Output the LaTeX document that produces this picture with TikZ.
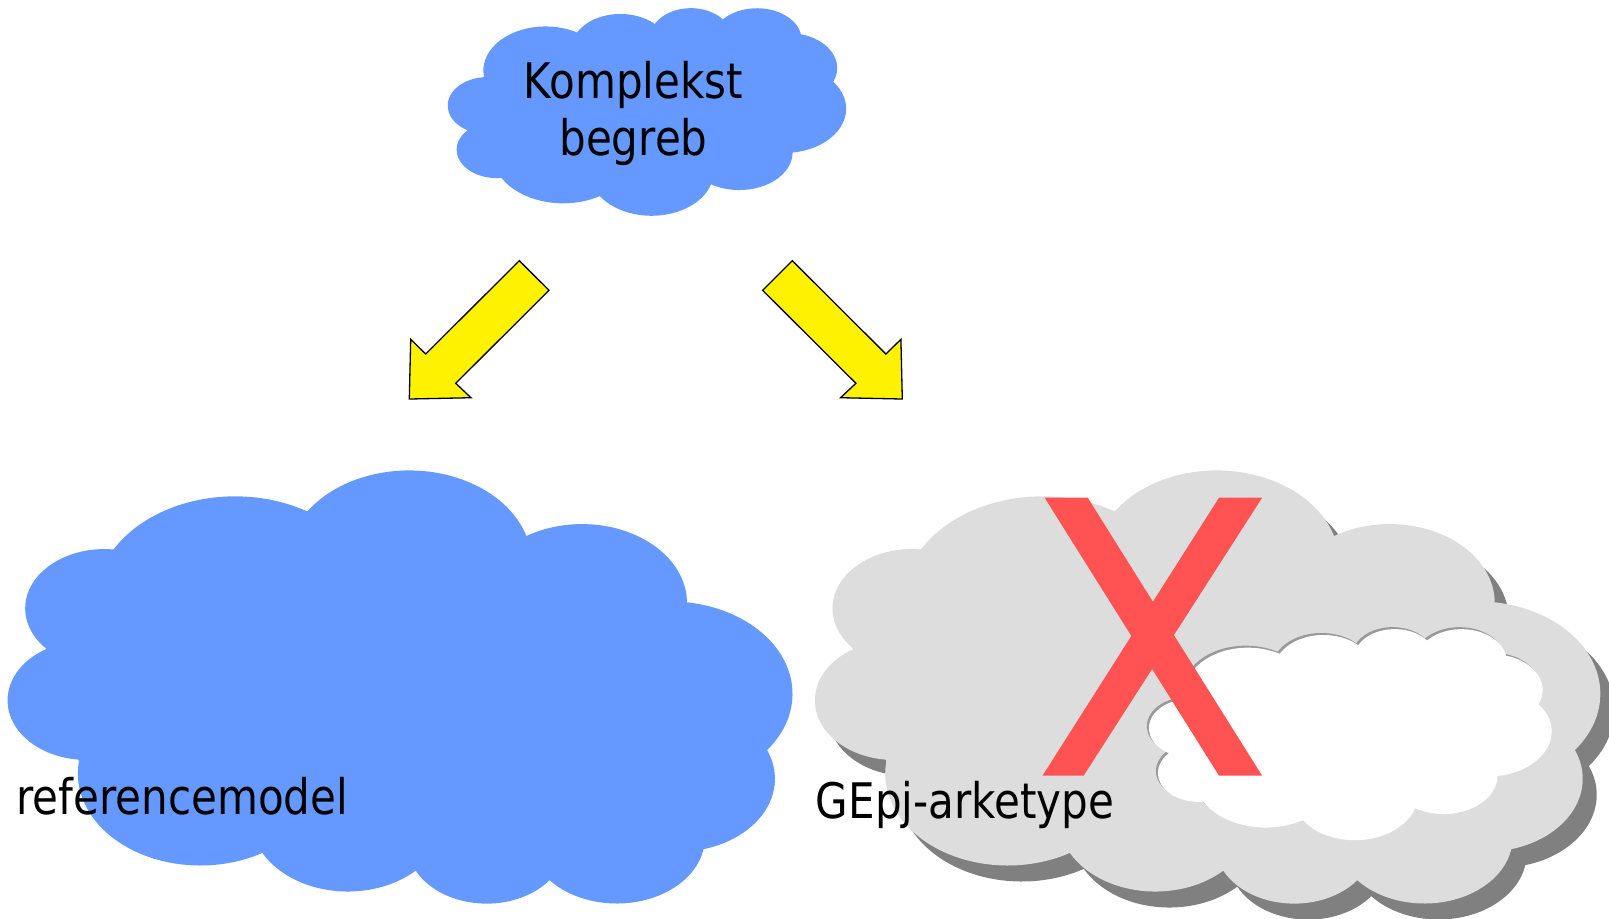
\documentclass[tikz,border=0pt]{standalone}
\usepackage{fontspec}
\setmainfont{DejaVu Sans}[FakeStretch=0.858]
\definecolor{cloudblue}{RGB}{102,153,255}
\definecolor{cloudgray}{RGB}{221,221,221}
\definecolor{shadowgray}{RGB}{128,128,128}
\definecolor{rimgray}{RGB}{153,153,153}
\definecolor{xred}{RGB}{255,82,82}
\newcommand\ooxcloud{(39.00,143.70)
  arc[start angle=-187.745, end angle=-59.63, x radius=67.53, y radius=91.90]
  arc[start angle=-152.02, end angle=-45.46, x radius=53.33, y radius=72.67]
  arc[start angle=-153.50, end angle=-37.34, x radius=43.65, y radius=59.45]
  arc[start angle=-139.70, end angle=-10.21, x radius=48.57, y radius=65.95]
  arc[start angle=-74.77, end angle=23.21, x radius=53.33, y radius=72.73]
  arc[start angle=-37.52, end angle=81.86, x radius=67.75, y radius=92.20]
  arc[start angle=0.46, end angle=121.97, x radius=57.85, y radius=78.67]
  arc[start angle=16.84, end angle=146.22, x radius=67.52, y radius=92.15]
  arc[start angle=58.98, end angle=150.19, x radius=77.20, y radius=105.43]
  arc[start angle=-276.69, end angle=-136.89, x radius=43.60, y radius=59.18]
  arc[start angle=-239.65, end angle=-95.89, x radius=43.45, y radius=59.45]
  -- cycle}
\tikzset{
  txt/.style={inner sep=0pt, font=\fontsize{24.5}{28.35}\selectfont, text=black},
  yarrow/.style={fill=yellow, draw=black, line width=0.65pt, line join=miter},
}
\begin{document}
\begin{tikzpicture}[x=0.5pt, y=-0.5pt]
\useasboundingbox (0,0) rectangle (1609,918);
\fill[white] (0,0) rectangle (1609,918);

% top cloud
\begin{scope}[shift={(448,7.5)}, xscale=398/432, yscale=207.5/432]
  \fill[cloudblue] \ooxcloud;
\end{scope}
\node[txt, align=center, anchor=base] (begriff) at (633.5,155) {Komplekst\\begreb};

% arrows
\path[yarrow] (519.3,260.7) -- (549,290.3) -- (455.7,383.3) -- (471,397.7)
  -- (409.3,399) -- (410.7,339.3) -- (425.7,354) -- cycle;
\path[yarrow] (792.3,260.7) -- (762.6,290.3) -- (855.9,383.3) -- (840.6,397.7)
  -- (902.3,399) -- (900.9,339.3) -- (885.9,354) -- cycle;

% bottom left cloud (flipped vertically)
\begin{scope}[shift={(8.2,905)}, xscale=784/432, yscale=-433/432]
  \fill[cloudblue] \ooxcloud;
\end{scope}
\node[txt, anchor=base west] (refmodel) at (16,814.5) {referencemodel};

% bottom right cloud with shadow
\begin{scope}[shift={(829.5,921)}, xscale=784.5/432, yscale=-433/432]
  \fill[shadowgray] \ooxcloud;
\end{scope}
\begin{scope}[shift={(815.5,905)}, xscale=784.5/432, yscale=-433/432]
  \fill[cloudgray] \ooxcloud;
\end{scope}
% inner white cloud
\begin{scope}[shift={(1147.2,626.4)}, xscale=402.3/432, yscale=211/432]
  \fill[rimgray] \ooxcloud;
\end{scope}
\begin{scope}[shift={(1149.2,628.4)}, xscale=402.3/432, yscale=211/432]
  \fill[white] \ooxcloud;
\end{scope}
% red X
\fill[xred] (1044.6,497.7) -- (1087.7,497.7) -- (1152.9,601.7) -- (1219,497.7)
  -- (1262.1,497.7) -- (1173.9,635.1) -- (1262.1,775.7) -- (1219,775.7)
  -- (1152.1,669.0) -- (1083.6,775.7) -- (1042.5,775.7) -- (1131.3,635.9) -- cycle;
\node[txt, anchor=base west] (gepj) at (815.5,818) {GEpj-arketype};
\end{tikzpicture}
\end{document}
